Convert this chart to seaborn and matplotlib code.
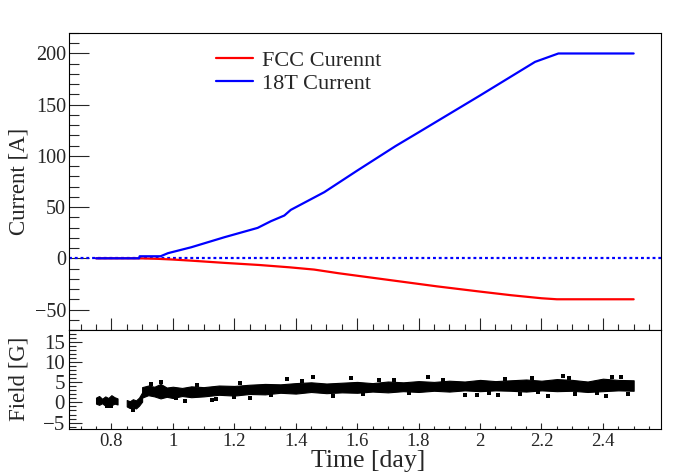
import seaborn as sns
import matplotlib
matplotlib.use("Agg")
import matplotlib.pyplot as plt
from matplotlib.ticker import MultipleLocator, FuncFormatter

# =======================
# Data
# =======================
fcc_time = [0.75, 0.89, 0.95, 1.00, 1.06, 1.17, 1.28, 1.38, 1.46, 1.54, 1.70,
            1.86, 2.00, 2.10, 2.20, 2.25, 2.50]
fcc_current = [0.0, 0.0, -0.5, -1.2, -2.3, -4.5, -6.5, -8.8, -11.0, -14.6, -21.0,
               -27.4, -32.5, -36.0, -39.0, -40.0, -40.0]

t18_time = [0.75, 0.89, 0.892, 0.96, 0.984, 1.06, 1.168, 1.276, 1.319, 1.363,
            1.384, 1.493, 1.601, 1.725, 1.80, 2.00, 2.179, 2.255, 2.50]
t18_current = [0.0, 0.0, 2.0, 2.0, 5.0, 10.8, 20.6, 29.7, 36.2, 41.8,
               47.3, 64.6, 85.8, 109.6, 123.0, 159.0, 191.8, 200.0, 200.0]

# field band (low / high edge of the dense cloud of points)
field_t1 = [0.750, 0.760, 0.770, 0.780, 0.790, 0.800, 0.810, 0.820]
field_lo1 = [-0.3, -0.6, -0.2, -0.8, -0.4, -0.7, -0.3, -0.5]
field_hi1 = [1.2, 1.6, 0.9, 1.5, 1.1, 1.8, 1.3, 1.0]

field_t2 = [0.850, 0.860, 0.870, 0.880, 0.890, 0.900]
field_lo2 = [-1.0, -1.4, -1.2, -1.5, -0.8, 0.2]
field_hi2 = [0.6, 0.3, 0.8, 0.5, 1.2, 2.5]

field_t3 = [0.90, 0.92, 0.94, 0.96, 0.98, 1.00, 1.03, 1.06, 1.10, 1.15, 1.20, 1.25,
            1.30, 1.35, 1.40, 1.45, 1.50, 1.55, 1.60, 1.65, 1.70, 1.75, 1.80, 1.85,
            1.90, 1.95, 2.00, 2.05, 2.10, 2.15, 2.20, 2.25, 2.30, 2.35, 2.40, 2.45, 2.50]
field_lo3 = [1.2, 1.8, 1.5, 1.0, 1.4, 1.1, 1.6, 1.3, 1.5, 1.9, 1.7, 2.1,
             2.0, 2.4, 2.2, 2.6, 2.3, 2.5, 2.4, 2.7, 2.5, 2.8, 2.6, 2.9,
             2.7, 3.0, 2.8, 3.0, 2.9, 2.7, 3.0, 2.8, 2.9, 2.6, 2.8, 3.0, 2.9]
field_hi3 = [3.8, 4.2, 3.9, 4.6, 3.7, 3.9, 3.6, 4.0, 3.8, 4.2, 4.1, 4.4,
             4.6, 4.5, 4.8, 5.0, 4.7, 4.9, 5.1, 4.8, 5.2, 5.0, 5.3, 5.1,
             5.4, 5.2, 5.6, 5.3, 5.5, 5.7, 5.4, 5.8, 5.6, 5.2, 5.9, 5.6, 5.5]

# stray points around the band
out_t = [0.786, 0.80, 0.87, 0.96, 1.04, 1.127, 1.14, 1.198, 1.25, 1.37, 1.457,
         1.52, 1.58, 1.72, 1.83, 1.95, 1.99, 2.06, 2.13, 2.17, 2.22, 2.27,
         2.31, 2.41, 2.43, 2.48, 0.93, 1.01, 1.08, 1.22, 1.32, 1.42, 1.62,
         1.67, 1.77, 1.88, 2.03, 2.08, 2.19, 2.29, 2.38, 2.46]
out_field = [-1.0, -0.9, -1.8, 5.0, 0.4, 0.7, 0.9, 1.4, 1.0, 5.8, 6.2,
             1.6, 6.0, 5.6, 6.3, 1.9, 1.9, 1.8, 2.1, 6.0, 1.6, 6.6,
             2.0, 1.7, 6.3, 2.0, 4.6, 1.0, 4.3, 4.9, 1.8, 5.3, 2.1,
             5.5, 2.3, 5.7, 2.4, 5.9, 2.5, 6.1, 2.3, 6.2]

# =======================
# Style
# =======================
sns.set_theme(style="ticks", rc={"axes.linewidth": 0.8, "xtick.direction": "in",
                                 "ytick.direction": "in"})
plt.rcParams["font.family"] = ["Liberation Serif", "DejaVu Serif"]

fmt = FuncFormatter(lambda v, p: f"{v:g}".replace("-", "\u2212"))

fig = plt.figure(figsize=(6.96, 4.72), dpi=100)
ax1 = fig.add_axes([69 / 696, 1 - 330 / 472, 592 / 696, 297 / 472])
ax2 = fig.add_axes([69 / 696, 1 - 429 / 472, 592 / 696, 99 / 472])

# =======================
# Top panel: currents
# =======================
ax1.axhline(0, color="blue", lw=1.6, ls=(0, (1.3, 1.3)), zorder=1)
sns.lineplot(x=fcc_time, y=fcc_current, ax=ax1, color="red", lw=1.6,
             estimator=None, sort=False, label="FCC Curennt")
sns.lineplot(x=t18_time, y=t18_current, ax=ax1, color="blue", lw=1.6,
             estimator=None, sort=False, label="18T Current")
ax1.set_xlim(0.662, 2.589)
ax1.set_ylim(-70, 220)
ax1.yaxis.set_major_locator(MultipleLocator(50))
ax1.yaxis.set_minor_locator(MultipleLocator(10))
ax1.xaxis.set_major_locator(MultipleLocator(0.2))
ax1.xaxis.set_minor_locator(MultipleLocator(0.05))
ax1.yaxis.set_major_formatter(fmt)
ax1.tick_params(axis="y", which="major", length=14.4, width=0.8, labelsize=14.5, pad=2)
ax1.tick_params(axis="y", which="minor", length=7.2, width=0.8)
ax1.tick_params(axis="x", which="major", length=8.6, width=0.8, labelbottom=False)
ax1.tick_params(axis="x", which="minor", length=4.3, width=0.8)
ax1.set_xlabel("")
ax1.set_ylabel("")
ax1.legend(loc="upper left", bbox_to_anchor=(216 / 696, 1 - 50 / 472),
           bbox_transform=fig.transFigure, frameon=False, fontsize=16,
           borderpad=0, borderaxespad=0, handlelength=1.65, handletextpad=0.4,
           labelspacing=0.12)

# =======================
# Bottom panel: field
# =======================
for t, lo, hi in [(field_t1, field_lo1, field_hi1), (field_t2, field_lo2, field_hi2),
                  (field_t3, field_lo3, field_hi3)]:
    ax2.fill_between(t, lo, hi, color="black", edgecolor="black", lw=0.8)
sns.scatterplot(x=out_t, y=out_field, ax=ax2, color="black", marker="s", s=7,
                linewidth=0)
ax2.set_xlim(0.662, 2.589)
ax2.set_ylim(-6.6, 18)
ax2.yaxis.set_major_locator(MultipleLocator(5))
ax2.yaxis.set_minor_locator(MultipleLocator(1))
ax2.xaxis.set_major_locator(MultipleLocator(0.2))
ax2.xaxis.set_minor_locator(MultipleLocator(0.05))
ax2.xaxis.set_major_formatter(fmt)
ax2.yaxis.set_major_formatter(fmt)
ax2.tick_params(axis="y", which="major", length=9.4, width=0.8, labelsize=15, pad=3)
ax2.tick_params(axis="y", which="minor", length=4.7, width=0.8)
ax2.tick_params(axis="x", which="major", length=4.0, width=0.8, labelsize=13.5, pad=3)
ax2.tick_params(axis="x", which="minor", length=2.2, width=0.8)
ax2.set_xlabel("")
ax2.set_ylabel("")

for ax in (ax1, ax2):
    for sp in ax.spines.values():
        sp.set_visible(True)
        sp.set_color("black")
        sp.set_linewidth(0.8)

# axis titles
fig.text(19 / 696, 1 - 181.5 / 472, "Current [A]", rotation=90, ha="center",
         va="center", fontsize=16.5)
fig.text(19.5 / 696, 1 - 379 / 472, "Field [G]", rotation=90, ha="center",
         va="center", fontsize=16.5)
fig.text(368 / 696, 1 - 461 / 472, "Time [day]", ha="center", va="center",
         fontsize=18.5)

fig.savefig("out.png", dpi=100)
